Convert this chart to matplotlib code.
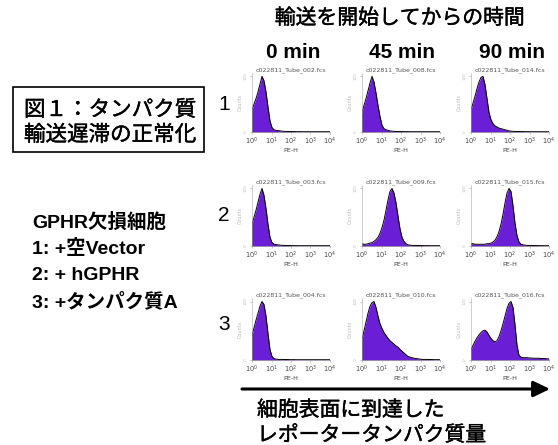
import numpy as np
import matplotlib
matplotlib.use("Agg")
import matplotlib.pyplot as plt
import matplotlib.patheffects as pe

W, H = 558, 445

# sample positions along the PE-H axis, in decades (10^0 .. 10^4)
log_pos = np.linspace(0, 4, 40)

time_labels = ["0 min", "45 min", "90 min"]
row_labels = ["1", "2", "3"]

file_names = [
    ["c022811_Tube_002.fcs", "c022811_Tube_008.fcs", "c022811_Tube_014.fcs"],
    ["c022811_Tube_003.fcs", "c022811_Tube_009.fcs", "c022811_Tube_015.fcs"],
    ["c022811_Tube_004.fcs", "c022811_Tube_010.fcs", "c022811_Tube_016.fcs"],
]

# relative counts
r1_0 = [40, 50, 60, 72, 86, 100, 92, 72, 45, 20, 8, 4, 3, 2.5, 2, 1.5, 1.2, 1, 1, 0.8,
        0.8, 0.8, 0.6, 0.6, 0.6, 0.5, 0.5, 0.5, 0.5, 0.5, 0.5, 0.5, 0.5, 0.5, 0.5, 0.5, 0.5, 0.5, 0.5, 0.5]
r1_45 = [35, 48, 60, 74, 88, 100, 90, 70, 48, 28, 12, 6, 4, 3, 2, 1.5, 1.2, 1, 0.8, 0.8,
         0.8, 0.6, 0.6, 0.6, 0.5, 0.5, 0.5, 0.5, 0.5, 0.5, 0.5, 0.5, 0.5, 0.5, 0.5, 0.5, 0.5, 0.5, 0.5, 0.5]
r1_90 = [40, 52, 64, 78, 90, 98, 100, 85, 60, 35, 22, 15, 11, 9, 7, 6, 5, 4, 3, 2,
         1.5, 1.2, 1, 1, 0.8, 0.8, 0.8, 0.6, 0.6, 0.6, 0.5, 0.5, 0.5, 0.5, 0.5, 0.5, 0.5, 0.5, 0.5, 0.5]
r2_0 = [38, 50, 62, 76, 90, 100, 88, 65, 38, 15, 6, 3, 2.5, 2, 1.5, 1.2, 1, 0.8, 0.8, 0.8,
        0.6, 0.6, 0.6, 0.5, 0.5, 0.5, 0.5, 0.5, 0.5, 0.5, 0.5, 0.5, 0.5, 0.5, 0.5, 0.5, 0.5, 0.5, 0.5, 0.5]
r2_45 = [4, 3, 3, 4, 5, 6, 8, 11, 15, 22, 32, 45, 62, 80, 95, 100, 92, 75, 52, 30,
         15, 8, 4, 2, 1.5, 1, 1, 1, 0.8, 0.8, 0.8, 0.6, 0.6, 0.6, 0.5, 0.5, 0.5, 0.5, 0.5, 0.5]
r2_90 = [4, 4, 3, 3, 3, 3, 3, 3, 4, 4, 5, 7, 10, 16, 25, 38, 55, 75, 92, 100,
         95, 70, 40, 18, 7, 3, 2, 1.5, 1, 1, 1, 0.8, 0.8, 0.8, 0.6, 0.6, 0.6, 0.5, 0.5, 0.5]
r3_0 = [42, 55, 68, 80, 92, 100, 95, 75, 45, 18, 6, 2.5, 1.5, 1, 1, 1, 0.8, 0.8, 0.8, 0.6,
        0.6, 0.6, 0.5, 0.5, 0.5, 0.5, 0.5, 0.5, 0.5, 0.5, 0.5, 0.5, 0.5, 0.5, 0.5, 0.5, 0.5, 0.5, 0.5, 0.5]
r3_45 = [35, 50, 65, 80, 92, 98, 100, 90, 75, 62, 54, 47, 42, 37, 33, 30, 27, 24, 22, 18,
         15, 12, 9, 6, 5, 4, 3, 2.5, 2, 1.5, 1, 1, 1, 0.8, 0.8, 0.8, 0.6, 0.6, 0.6, 0.5]
r3_90 = [18, 25, 32, 38, 43, 47, 50, 51, 48, 42, 37, 33, 31, 33, 40, 50, 62, 75, 88, 97,
         100, 90, 60, 25, 8, 5, 4, 4, 4, 3.5, 3.5, 3, 3, 3, 3, 2.5, 2.5, 2.5, 2, 2]

panels = [[r1_0, r1_45, r1_90], [r2_0, r2_45, r2_90], [r3_0, r3_45, r3_90]]

# layout in pixels
col_left = [252, 362, 471]
col_width = 78
row_top_bottom = [(73, 132), (185, 246), (298, 360)]

PURPLE = "#6a1ed6"
CJK = ["Noto Sans CJK JP", "DejaVu Sans"]
LAT = ["Liberation Sans", "Noto Sans CJK JP"]
THICK = [pe.withStroke(linewidth=0.3, foreground="black")]


def fx(x):
    return x / W


def fy(y):
    return 1 - y / H


fig = plt.figure(figsize=(W / 100, H / 100), dpi=100)

xs = 10 ** log_pos
for r in range(3):
    top, bot = row_top_bottom[r]
    for c in range(3):
        ax = fig.add_axes([fx(col_left[c]), fy(bot), col_width / W, (bot - top) / H])
        vals = np.array(panels[r][c])
        ax.fill_between(xs, vals, color=PURPLE, lw=0)
        ax.plot(xs, vals, color="black", lw=0.7)
        ax.plot([xs[0], xs[0]], [0, vals[0]], color="black", lw=0.5)
        ax.set_xscale("log")
        ax.set_xlim(1, 10 ** 4)
        ax.set_ylim(0, 106)
        ax.set_xticks([1, 10, 100, 1000, 10000])
        ax.set_xticklabels([r"$10^{%d}$" % i for i in range(5)], fontsize=4.8)
        ax.xaxis.set_minor_locator(matplotlib.ticker.NullLocator())
        ax.set_yticks([0, 100])
        ax.set_yticklabels(["0", "120"], fontsize=3, rotation=90, va="center")
        ax.tick_params(axis="both", length=1.5, width=0.4, pad=1.5, colors="#999999")
        for lbl in ax.get_xticklabels():
            lbl.set_color("#444444")
        for lbl in ax.get_yticklabels():
            lbl.set_color("#bbbbbb")
        ax.set_xlabel("PE-H", fontsize=4.6, color="#444444", labelpad=0.5)
        ax.set_ylabel("Counts", fontsize=3.5, color="#bbbbbb", labelpad=1)
        ax.set_title(file_names[r][c], fontsize=4.5, color="#555555", pad=1.5)
        for s in ["top", "right"]:
            ax.spines[s].set_visible(False)
        ax.spines["left"].set_color("#aaaaaa")
        ax.spines["left"].set_linewidth(0.4)
        ax.spines["bottom"].set_color("#888888")
        ax.spines["bottom"].set_linewidth(0.4)

# headings
fig.text(fx(400), fy(18), "輸送を開始してからの時間", family=CJK, fontsize=15,
         ha="center", va="center", path_effects=THICK)
for x, t in zip([293, 402, 512], time_labels):
    fig.text(fx(x), fy(53), t, family=LAT, fontsize=15, fontweight="bold",
             ha="center", va="center")

for y, t in zip([104, 216, 325], row_labels):
    fig.text(fx(224), fy(y), t, family=LAT, fontsize=15, ha="center", va="center")

# title box
fig.text(fx(24), fy(110), "図１：タンパク質", family=CJK, fontsize=15.5,
         ha="left", va="center", path_effects=THICK)
fig.text(fx(24), fy(135), "輸送遅滞の正常化", family=CJK, fontsize=15.5,
         ha="left", va="center", path_effects=THICK)
box = matplotlib.patches.Rectangle((fx(13), fy(152)), (204 - 13) / W, (152 - 87) / H,
                                   transform=fig.transFigure, fill=False,
                                   edgecolor="black", lw=1.2)
fig.add_artist(box)

legend_lines = ["GPHR欠損細胞", "1: +空Vector", "2: + hGPHR", "3: +タンパク質A"]
for i, t in enumerate(legend_lines):
    fig.text(fx(32), fy(222 + i * 26.7), t, family=LAT, fontsize=14,
             fontweight="bold", ha="left", va="center")

# arrow along the x direction
fig.add_artist(matplotlib.patches.FancyArrowPatch(
    (fx(242), fy(389)), (fx(550), fy(389)), transform=fig.transFigure,
    arrowstyle="-|>,head_length=10,head_width=4.8", mutation_scale=1,
    lw=2.2, color="black", shrinkA=0, shrinkB=0))

fig.text(fx(257), fy(410), "細胞表面に到達した", family=CJK, fontsize=15,
         ha="left", va="center", path_effects=THICK)
fig.text(fx(257), fy(435), "レポータータンパク質量", family=CJK, fontsize=15,
         ha="left", va="center", path_effects=THICK)

fig.savefig("out.png", dpi=100)
